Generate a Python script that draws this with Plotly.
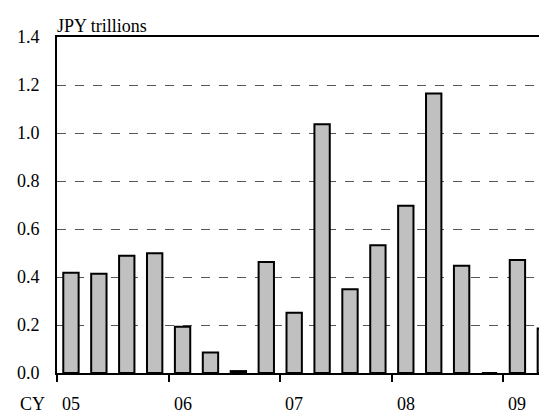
import plotly.graph_objects as go

quarters = ["05Q1","05Q2","05Q3","05Q4","06Q1","06Q2","06Q3","06Q4",
            "07Q1","07Q2","07Q3","07Q4","08Q1","08Q2","08Q3","08Q4",
            "09Q1","09Q2"]
values = [0.418, 0.414, 0.489, 0.499, 0.193, 0.085, 0.008, 0.463,
          0.251, 1.036, 0.349, 0.532, 0.697, 1.165, 0.447, 0.0,
          0.471, 0.185]
year_labels = ["05", "06", "07", "08", "09"]
y_ticks = [0.0, 0.2, 0.4, 0.6, 0.8, 1.0, 1.2, 1.4]

xs = list(range(len(quarters)))
font = "'Times New Roman', 'Liberation Serif', Tinos, 'DejaVu Serif', serif"
fsize = 18

fig = go.Figure()
fig.add_trace(go.Bar(
    x=xs, y=values, width=0.55,
    marker=dict(color="#C0C0C0", line=dict(color="black", width=2)),
    hovertext=quarters,
))

annotations = []
for i, lab in enumerate(year_labels):
    annotations.append(dict(x=i * 4, y=0, xref="x", yref="paper", text=lab,
                            showarrow=False, yanchor="top", yshift=-19,
                            font=dict(family=font, size=fsize, color="black")))
annotations.append(dict(x=0, y=0, xref="paper", yref="paper", text="CY",
                        showarrow=False, xanchor="right", yanchor="top",
                        xshift=-10, yshift=-19,
                        font=dict(family=font, size=fsize, color="black")))
annotations.append(dict(x=0, y=1, xref="paper", yref="paper", text="JPY trillions",
                        showarrow=False, xanchor="left", yanchor="bottom",
                        xshift=-2, yshift=-1,
                        font=dict(family=font, size=fsize, color="black")))

fig.update_layout(
    width=539, height=406,
    margin=dict(l=49, r=0, t=29, b=41),
    paper_bgcolor="white", plot_bgcolor="white",
    showlegend=False,
    font=dict(family=font, size=fsize, color="black"),
    annotations=annotations,
    xaxis=dict(range=[-0.5, 17.06], tickvals=[-0.5, 3.5, 7.5, 11.5, 15.5],
               ticktext=["", "", "", "", ""], ticks="outside", ticklen=7,
               tickwidth=2, tickcolor="black", showgrid=False, zeroline=False,
               showline=True, linecolor="black", linewidth=2, mirror=True),
    yaxis=dict(range=[0, 1.4], tickvals=y_ticks,
               ticktext=[f"{v:.1f}" for v in y_ticks],
               showgrid=True, gridcolor="#555555", griddash="dash", gridwidth=1,
               zeroline=False, showline=True, linecolor="black", linewidth=2,
               ticks="", ticklabelstandoff=12),
)

fig.write_html("out.html")
